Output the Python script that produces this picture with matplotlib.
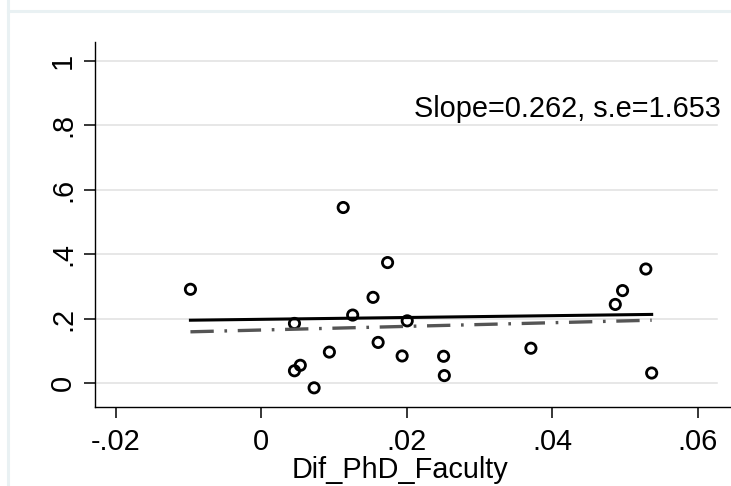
import matplotlib
matplotlib.use("Agg")
import matplotlib.pyplot as plt
from matplotlib.lines import Line2D

# scatter values
dif_phd = [-0.0097, 0.0046, 0.0054, 0.0046, 0.0073, 0.0094, 0.0113, 0.0126,
           0.0154, 0.0161, 0.0174, 0.0194, 0.0201, 0.0251, 0.0252, 0.0371,
           0.0487, 0.0497, 0.0529, 0.0537]
outcome = [0.291, 0.185, 0.055, 0.038, -0.015, 0.096, 0.545, 0.211,
           0.266, 0.126, 0.374, 0.084, 0.193, 0.083, 0.023, 0.108,
           0.244, 0.287, 0.354, 0.031]

# fitted lines (end points)
fit_x = [-0.0097, 0.0537]
fit_solid = [0.195, 0.213]
fit_dash = [0.159, 0.195]

xticks = [-0.02, 0, 0.02, 0.04, 0.06]
xtick_labels = ["-.02", "0", ".02", ".04", ".06"]
yticks = [0, 0.2, 0.4, 0.6, 0.8, 1.0]
ytick_labels = ["0", ".2", ".4", ".6", ".8", "1"]

slope_text = "Slope=0.262, s.e=1.653"

plt.rcParams["font.family"] = ["Liberation Sans", "DejaVu Sans"]
FS = 20.8

W, H = 731, 486
fig = plt.figure(figsize=(W / 100, H / 100), dpi=100, facecolor="white")

# light outer frame of the graph region (top and left edges only visible)
fig.add_artist(Line2D([7.5 / W, 7.5 / W], [0, 1], color="#e9f1f3", linewidth=2.2))
fig.add_artist(Line2D([7.5 / W, 1], [1 - 11.5 / H, 1 - 11.5 / H],
                      color="#e9f1f3", linewidth=2.2))

# axes placed in pixel terms: left spine at 95, bottom at 407, top at 42
left, right, bottom, top = 95, 740, 407, 42
ax = fig.add_axes([left / W, 1 - bottom / H, (right - left) / W, (bottom - top) / H])
ax.set_facecolor("white")

xpx = 7275.0   # pixels per unit in x, x=0 at 261
ypx = 322.0    # pixels per unit in y, y=0 at 383
ax.set_xlim((left - 261) / xpx, (right - 261) / xpx)
ax.set_ylim((383 - bottom) / ypx, (383 - top) / ypx)

# gridlines
grid_end = (717 - 261) / xpx
for yv in yticks:
    ax.plot([ax.get_xlim()[0], grid_end], [yv, yv], color="#e0e0e0",
            linewidth=1.1, zorder=1, clip_on=False)

ax.scatter(dif_phd, outcome, s=55, facecolors="none", edgecolors="black",
           linewidths=2.0, zorder=3)
ax.plot(fit_x, fit_solid, color="black", linewidth=2.2, zorder=4)
ax.plot(fit_x, fit_dash, color="#555555", linewidth=2.4,
        linestyle=(0, (7.0, 3.2, 0.8, 3.2)), zorder=4)

ax.text((414 - 261) / xpx, (383 - 117) / ypx, slope_text, fontsize=FS,
        ha="left", va="baseline", color="black")

ax.set_xticks(xticks)
ax.set_xticklabels(xtick_labels, fontsize=FS)
ax.set_yticks(yticks)
ax.set_yticklabels(ytick_labels, fontsize=FS, rotation=90, va="center")
ax.tick_params(axis="both", length=8, width=1.1, color="black", direction="out")
ax.tick_params(axis="x", pad=7)
ax.tick_params(axis="y", pad=5)

for side in ["top", "right"]:
    ax.spines[side].set_visible(False)
for side in ["left", "bottom"]:
    ax.spines[side].set_color("black")
    ax.spines[side].set_linewidth(1.0)

fig.text(400 / W, 1 - 478 / H, "Dif_PhD_Faculty", fontsize=FS,
         ha="center", va="baseline")

fig.savefig("out.png", dpi=100, facecolor="white")
